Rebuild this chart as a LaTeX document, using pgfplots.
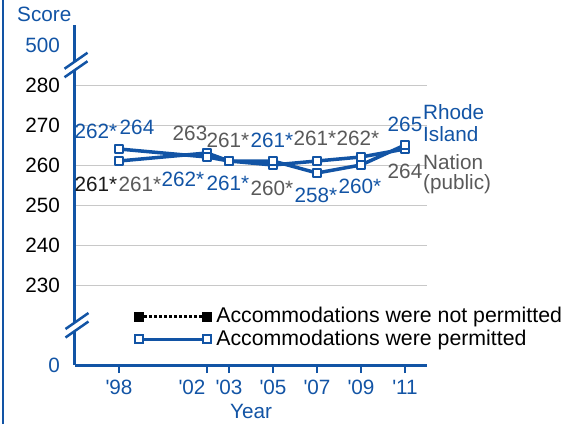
\documentclass[border=0pt]{standalone}
\usepackage{pgfplots}
\pgfplotsset{compat=1.18}
\usepackage{fontspec}
\setmainfont{Liberation Sans}
\definecolor{nb}{HTML}{1254A5}
\definecolor{ng}{HTML}{595959}
\definecolor{gridc}{HTML}{C8C8C8}
\begin{document}
\fontsize{20.7}{24}\selectfont
\begin{tikzpicture}[x=1pt,y=1pt]
\begin{axis}[
  scale only axis, width=352pt, height=340pt,
  at={(75pt,59pt)}, anchor=south west,
  xmin=1996, xmax=2012, ymin=210, ymax=295,
  /pgf/number format/assume math mode=true,
  axis lines=left,
  axis line style={-, line width=3pt, draw=nb},
  xtick={1998,2002,2003,2005,2007,2009,2011},
  xticklabels={\textquotesingle98,\textquotesingle02\hspace*{30pt},\textquotesingle03,\textquotesingle05,\textquotesingle07,\textquotesingle09,\textquotesingle11},
  xticklabel style={text=nb},
  tick align=outside,
  xtick style={draw=nb, line width=2pt},
  major tick length=8pt,
  ytick={230,240,...,280},
  ytick style={draw=none},
  yticklabel style={text=black},
  ymajorgrids, grid style={gridc, line width=1pt},
  extra y ticks={210,290}, extra y tick labels={0,500},
  extra y tick style={grid=none, yticklabel style={text=nb}},
  xlabel={Year}, xlabel style={text=nb, at={(axis description cs:0.5,-0.157)}, anchor=base, inner sep=0pt},
  clip=false,
  legend image code/.code={\draw[#1] plot coordinates {(0pt,0pt) (68pt,0pt)};},
  legend cell align=left,
  legend style={at={(0.168,0.173)}, anchor=north west, draw=none, fill=none,
    inner sep=0pt, row sep=2pt, nodes={inner ysep=1pt, inner xsep=5pt},
    font=\fontsize{21.3}{24}\selectfont},
]
\addlegendimage{black, line width=3pt, dash pattern=on 3pt off 2pt, mark=square*, mark size=4.5pt, mark options={solid, line width=1pt}}
\addlegendentry{Accommodations were not permitted}
\addlegendimage{nb, line width=3pt, mark=square*, mark size=4.2pt, mark options={solid, fill=white, line width=1.8pt}}
\addlegendentry{Accommodations were permitted}
% Nation (public)
\addplot[forget plot, nb, line width=3.5pt, line join=round, mark=square*, mark size=4.3pt, mark options={fill=white, line width=1.8pt}]
  coordinates {(1998,261)(2002,263)(2003,261)(2005,260)(2007,261)(2009,262)(2011,264)};
% Rhode Island
\addplot[forget plot, nb, line width=3.5pt, line join=round, mark=square*, mark size=4.3pt, mark options={fill=white, line width=1.8pt}]
  coordinates {(1998,264)(2002,262)(2003,261)(2005,261)(2007,258)(2009,260)(2011,265)};
\end{axis}
% frame line
\draw[nb, line width=2pt] (3,0) -- (3,424);
% y axis title
\node[anchor=west, inner sep=0pt, text=nb] at (17,410) {Score};
% axis breaks
\foreach \cx/\cy in {76/359, 77/98.75}{
  \fill[white] (\cx-4,\cy+1.47) -- (\cx+4,\cy+7.03) -- (\cx+4,\cy-1.47) -- (\cx-4,\cy-7.03) -- cycle;
  \draw[nb, line width=2.5pt] (\cx-11.5,\cy-3.75) -- (\cx+11.5,\cy+12.25);
  \draw[nb, line width=2.5pt] (\cx-11.5,\cy-12.25) -- (\cx+11.5,\cy+3.75);
}
% value labels
\begin{scope}[every node/.style={inner sep=0pt, anchor=center}]
\node[text=nb] at (96,293) {262*};
\node[text=nb] at (137,297) {264};
\node[text=nb] at (183,245) {262*};
\node[text=nb] at (228,241) {261*};
\node[text=nb] at (272,284) {261*};
\node[text=nb] at (316,229) {258*};
\node[text=nb] at (360,238) {260*};
\node[text=nb] at (405,300) {265};
\node[text=ng] at (140,240) {261*};
\node[text=ng] at (190,291) {263};
\node[text=ng] at (228,284) {261*};
\node[text=ng] at (272,236) {260*};
\node[text=ng] at (315,286) {261*};
\node[text=ng] at (358,286) {262*};
\node[text=ng] at (405,253) {264};
\node[text=black!90] at (96,240) {261*};
\end{scope}
\begin{scope}[every node/.style={inner sep=0pt, anchor=west}]
\node[text=nb] at (423,312) {Rhode};
\node[text=nb] at (423,290) {Island};
\node[text=ng] at (423,262) {Nation};
\node[text=ng] at (423,240) {(public)};
\end{scope}
\pgfresetboundingbox
\path[use as bounding box] (0,0) rectangle (576,424);
\end{tikzpicture}
\end{document}
